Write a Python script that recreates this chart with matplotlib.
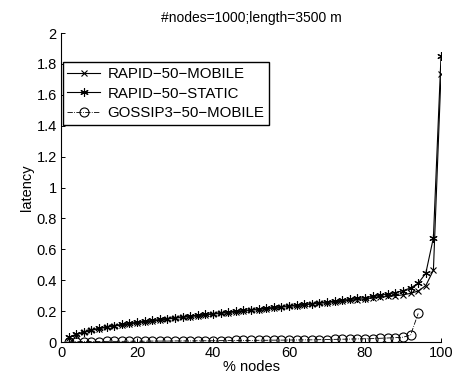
import matplotlib
matplotlib.use("Agg")
import matplotlib.pyplot as plt
import numpy as np

plt.rcParams['font.family'] = ['Liberation Sans', 'DejaVu Sans']

x_pct = list(range(2, 101, 2))
static = [0.030, 0.050, 0.065, 0.078, 0.089, 0.098, 0.106, 0.114, 0.121, 0.128,
          0.134, 0.140, 0.146, 0.152, 0.158, 0.163, 0.168, 0.174, 0.179, 0.184,
          0.189, 0.194, 0.199, 0.204, 0.209, 0.214, 0.219, 0.224, 0.229, 0.234,
          0.239, 0.244, 0.249, 0.254, 0.259, 0.264, 0.270, 0.276, 0.282, 0.288,
          0.295, 0.302, 0.310, 0.320, 0.332, 0.350, 0.380, 0.445, 0.675, 1.850]
mobile = [0.028, 0.047, 0.062, 0.075, 0.086, 0.095, 0.103, 0.110, 0.117, 0.124,
          0.130, 0.136, 0.142, 0.148, 0.154, 0.159, 0.164, 0.170, 0.175, 0.180,
          0.185, 0.190, 0.195, 0.200, 0.205, 0.210, 0.215, 0.220, 0.225, 0.230,
          0.235, 0.240, 0.245, 0.250, 0.255, 0.260, 0.265, 0.270, 0.275, 0.280,
          0.285, 0.290, 0.295, 0.300, 0.305, 0.315, 0.330, 0.365, 0.465, 1.735]
x_gossip = list(range(2, 95, 2))
gossip = [0.002, 0.002, 0.003, 0.003, 0.003, 0.004, 0.004, 0.004, 0.005, 0.005,
          0.005, 0.006, 0.006, 0.006, 0.007, 0.007, 0.007, 0.008, 0.008, 0.008,
          0.009, 0.009, 0.010, 0.010, 0.010, 0.011, 0.011, 0.012, 0.012, 0.013,
          0.013, 0.014, 0.014, 0.015, 0.016, 0.017, 0.018, 0.019, 0.020, 0.021,
          0.022, 0.024, 0.026, 0.028, 0.031, 0.045, 0.185]

fig = plt.figure(figsize=(4.57, 3.75), dpi=100)
ax = fig.add_axes([0.1335, 0.088, 0.8315, 0.824])

asterisk = (6, 2, 0)
ax.plot(x_pct, mobile, color='black', lw=0.8, marker='x', markersize=4.5,
        markeredgewidth=0.8, label='RAPID\u221250\u2212MOBILE')
ax.plot(x_pct, static, color='black', lw=0.8, marker=asterisk, markersize=6,
        markeredgewidth=0.8, label='RAPID\u221250\u2212STATIC')
ax.plot(x_gossip, gossip, color='black', lw=0.6, ls='-.', marker='o', markersize=6.5,
        markerfacecolor='none', markeredgewidth=0.8, label='GOSSIP3\u221250\u2212MOBILE')

ax.set_xlim(0, 100)
ax.set_ylim(0, 2)
ax.set_xticks([0, 20, 40, 60, 80, 100])
ax.set_yticks([0, 0.2, 0.4, 0.6, 0.8, 1, 1.2, 1.4, 1.6, 1.8, 2])
ax.set_yticklabels(['0', '0.2', '0.4', '0.6', '0.8', '1', '1.2', '1.4', '1.6', '1.8', '2'])
ax.spines['top'].set_visible(False)
ax.spines['right'].set_visible(False)
ax.spines['left'].set_linewidth(0.8)
ax.spines['bottom'].set_linewidth(0.8)
ax.tick_params(direction='in', length=3, width=0.7, labelsize=10.5, pad=3)

ax.set_title('#nodes=1000;length=3500 m', fontsize=10, pad=8)
ax.set_xlabel('% nodes', fontsize=10.5, labelpad=0)
ax.set_ylabel('latency', fontsize=10.5, labelpad=2)

leg = ax.legend(loc='upper left', bbox_to_anchor=(0.004, 0.905), fontsize=10.8,
                frameon=True, fancybox=False, edgecolor='black', handlelength=2.2,
                borderaxespad=0, borderpad=0.3, labelspacing=0.38, handletextpad=0.5)
leg.get_frame().set_linewidth(1.0)
leg.get_frame().set_alpha(1)

fig.savefig('out.png', dpi=100)
